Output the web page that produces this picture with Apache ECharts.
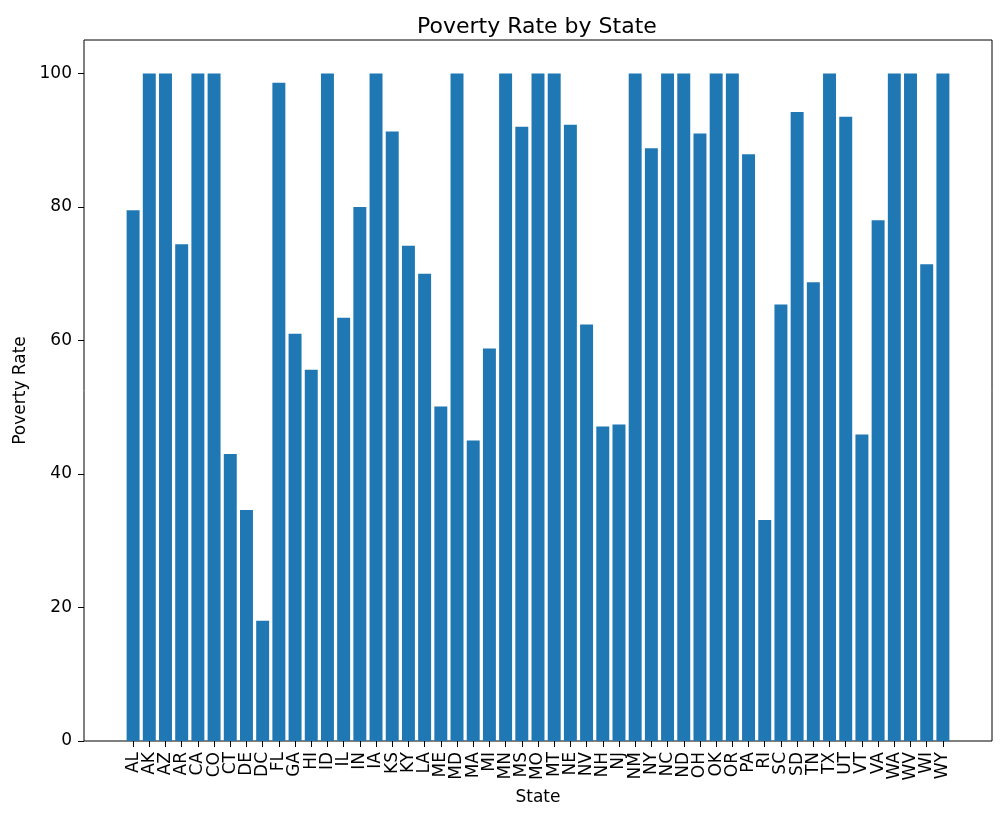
<!DOCTYPE html>
<html>
<head>
<meta charset="utf-8">
<script src="https://cdn.jsdelivr.net/npm/echarts@6/dist/echarts.min.js"></script>
<style>
  html, body { margin: 0; padding: 0; background: #fff; }
  #main { width: 1003px; height: 822px; }
</style>
</head>
<body>
<div id="main"></div>
<script>
var states = ['AL', 'AK', 'AZ', 'AR', 'CA', 'CO', 'CT', 'DE', 'DC', 'FL', 'GA', 'HI', 'ID',
    'IL', 'IN', 'IA', 'KS', 'KY', 'LA', 'ME', 'MD', 'MA', 'MI', 'MN', 'MS', 'MO', 'MT',
    'NE', 'NV', 'NH', 'NJ', 'NM', 'NY', 'NC', 'ND', 'OH', 'OK', 'OR', 'PA', 'RI', 'SC',
    'SD', 'TN', 'TX', 'UT', 'VT', 'VA', 'WA', 'WV', 'WI', 'WY'];

var povertyRate = [79.5, 100, 100, 74.4, 100, 100, 43.0, 34.6, 18.0, 98.6, 61.0, 55.6, 100,
    63.4, 80.0, 100, 91.3, 74.2, 70.0, 50.1, 100, 45.0, 58.8, 100, 92.0, 100, 100,
    92.3, 62.4, 47.1, 47.4, 100, 88.8, 100, 100, 91.0, 100, 100, 87.9, 33.1, 65.4,
    94.2, 68.7, 100, 93.5, 45.9, 78.0, 100, 100, 71.4, 100];

var yTicks = [0, 20, 40, 60, 80, 100];

var font = 'DejaVu Sans';
var dom = document.getElementById('main');
var myChart = echarts.init(dom, null, {renderer: 'canvas'});

var option = {
    animation: false,
    title: {
        text: 'Poverty Rate by State',
        left: 412,
        top: 11,
        textStyle: {fontFamily: font, fontSize: 22, fontWeight: 'normal', color: '#000'}
    },
    grid: [
        // frame + y axis
        {left: 84, right: 11, top: 40, bottom: 81, show: true, borderColor: '#000', borderWidth: 1, containLabel: false},
        // bars (inset like matplotlib's x margins)
        {left: 125, right: 52, top: 40, bottom: 81, containLabel: false}
    ],
    xAxis: [
        {
            gridIndex: 0, type: 'value', min: 0, max: 1,
            axisLine: {show: false}, axisTick: {show: false}, axisLabel: {show: false}, splitLine: {show: false}
        },
        {
            gridIndex: 1, type: 'category', data: states,
            name: 'State', nameLocation: 'middle', nameGap: 48,
            nameTextStyle: {fontFamily: font, fontSize: 17, color: '#000'},
            axisLine: {show: false},
            axisTick: {show: true, alignWithLabel: true, length: 6, lineStyle: {color: '#000'}},
            axisLabel: {interval: 0, rotate: 90, margin: 11, fontFamily: font, fontSize: 17, color: '#000'}
        }
    ],
    yAxis: [
        {
            gridIndex: 0, type: 'value', min: 0, max: 105,
            name: 'Poverty Rate', nameLocation: 'middle', nameGap: 55,
            nameTextStyle: {fontFamily: font, fontSize: 17, color: '#000'},
            axisLine: {show: false},
            axisTick: {show: true, length: 6, customValues: yTicks, lineStyle: {color: '#000'}},
            axisLabel: {margin: 12, customValues: yTicks, fontFamily: font, fontSize: 17, color: '#000'},
            splitLine: {show: false}
        },
        {
            gridIndex: 1, type: 'value', min: 0, max: 105,
            axisLine: {show: false}, axisTick: {show: false}, axisLabel: {show: false}, splitLine: {show: false}
        }
    ],
    series: [
        {
            type: 'bar',
            xAxisIndex: 1,
            yAxisIndex: 1,
            data: povertyRate,
            barWidth: '80%',
            itemStyle: {color: '#1f77b4'}
        }
    ]
};

if (option && typeof option === 'object') {
    myChart.setOption(option, true);
}
</script>
</body>
</html>
